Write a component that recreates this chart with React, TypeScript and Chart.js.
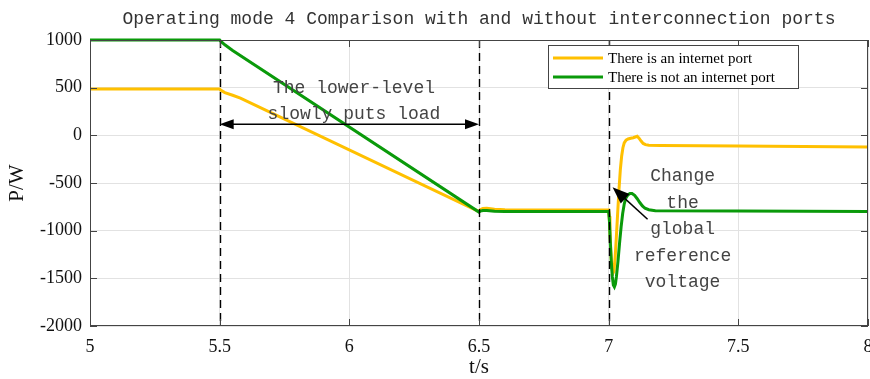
import React, { useEffect, useRef } from 'react';
import { Chart, registerables } from 'chart.js';

Chart.register(...registerables);

const chartTitle = 'Operating mode 4 Comparison with and without interconnection ports';
const xTitle = 't/s';
const yTitle = 'P/W';
const xTicks = [5, 5.5, 6, 6.5, 7, 7.5, 8];
const yTicks = [1000, 500, 0, -500, -1000, -1500, -2000];
const seriesNames = ['There is an internet port', 'There is not an internet port'];
const seriesColors = ['#FFC000', '#0A9A0A'];

// With interconnection port (yellow)
const tWith = [5.0, 5.5, 5.505, 5.52, 5.55, 5.58, 6.5, 6.505, 6.515, 6.53, 6.56, 6.6, 7.0,
  7.002, 7.005, 7.008, 7.012, 7.016, 7.02, 7.025, 7.03, 7.035, 7.04, 7.045, 7.05, 7.055, 7.06, 7.067, 7.075,
  7.085, 7.095, 7.105, 7.11, 7.117, 7.125, 7.133, 7.142, 7.155, 7.2, 7.5, 8.0];
const pWith = [485, 485, 472, 448, 420, 390, -800, -780, -768, -766, -775, -780, -782,
  -850, -1000, -1200, -1380, -1450, -1430, -1280, -1050, -800, -560, -360, -220, -130, -80, -50, -38,
  -30, -25, -15, -10, -30, -60, -85, -98, -104, -106, -113, -122];

// Without interconnection port (green)
const tWithout = [5.0, 5.5, 5.505, 5.52, 5.55, 6.5, 6.505, 6.515, 6.53, 6.56, 6.6, 7.0,
  7.003, 7.006, 7.01, 7.014, 7.018, 7.022, 7.026, 7.03, 7.036, 7.042, 7.048, 7.054, 7.06, 7.066, 7.074,
  7.082, 7.09, 7.1, 7.11, 7.12, 7.13, 7.14, 7.155, 7.18, 7.5, 8.0];
const pWithout = [1000, 1000, 985, 950, 890, -805, -795, -788, -788, -796, -800, -800,
  -900, -1100, -1320, -1480, -1570, -1590, -1560, -1480, -1320, -1130, -960, -820, -720, -660, -625,
  -610, -610, -630, -665, -705, -740, -765, -780, -790, -795, -800];

const dashedTimes = [5.5, 6.5, 7];
const annotText1 = ['The lower-level', 'slowly puts load'];
const annotText1Pos = { x: 6.018, y: [493, 218] };
const doubleArrow = { x1: 5.5, x2: 6.5, y: 115 };
const annotText2 = ['Change', 'the', 'global', 'reference', 'voltage'];
const annotText2Pos = { x: 7.285, y: [-430, -715, -990, -1270, -1540] };
const singleArrow = { xFrom: 7.15, yFrom: -880, xTo: 7.015, yTo: -545 };

function head(ctx: CanvasRenderingContext2D, x1: number, y1: number, x2: number, y2: number, len: number, w: number) {
  const a = Math.atan2(y2 - y1, x2 - x1);
  const bx = x2 - len * Math.cos(a);
  const by = y2 - len * Math.sin(a);
  ctx.beginPath();
  ctx.moveTo(x2, y2);
  ctx.lineTo(bx + (w / 2) * Math.sin(a), by - (w / 2) * Math.cos(a));
  ctx.lineTo(bx - (w / 2) * Math.sin(a), by + (w / 2) * Math.cos(a));
  ctx.closePath();
  ctx.fill();
}

const overlay = {
  id: 'overlay',
  afterDraw(chart: any) {
    const { ctx, chartArea: a, scales } = chart;
    const xs = scales.x;
    const ys = scales.y;
    ctx.save();

    // dashed verticals
    ctx.strokeStyle = '#000';
    ctx.lineWidth = 1.4;
    ctx.setLineDash([8, 5]);
    dashedTimes.forEach((t) => {
      const px = Math.round(xs.getPixelForValue(t)) + 0.5;
      ctx.beginPath();
      ctx.moveTo(px, a.top);
      ctx.lineTo(px, a.bottom);
      ctx.stroke();
    });
    ctx.setLineDash([]);

    // box + inner ticks
    ctx.strokeStyle = '#444';
    ctx.lineWidth = 1;
    ctx.strokeRect(a.left + 0.5, a.top + 0.5, a.right - a.left - 1, a.bottom - a.top - 1);
    ctx.beginPath();
    xTicks.forEach((t) => {
      const px = Math.round(xs.getPixelForValue(t)) + 0.5;
      ctx.moveTo(px, a.bottom);
      ctx.lineTo(px, a.bottom - 7);
      ctx.moveTo(px, a.top);
      ctx.lineTo(px, a.top + 7);
    });
    yTicks.forEach((v) => {
      const py = Math.round(ys.getPixelForValue(v)) + 0.5;
      ctx.moveTo(a.left, py);
      ctx.lineTo(a.left + 7, py);
      ctx.moveTo(a.right, py);
      ctx.lineTo(a.right - 7, py);
    });
    ctx.stroke();

    // double arrow
    ctx.strokeStyle = '#000';
    ctx.fillStyle = '#000';
    ctx.lineWidth = 1.5;
    const ax1 = xs.getPixelForValue(doubleArrow.x1);
    const ax2 = xs.getPixelForValue(doubleArrow.x2);
    const ay = ys.getPixelForValue(doubleArrow.y);
    ctx.beginPath();
    ctx.moveTo(ax1 + 8, ay);
    ctx.lineTo(ax2 - 8, ay);
    ctx.stroke();
    head(ctx, ax2, ay, ax1, ay, 14, 10);
    head(ctx, ax1, ay, ax2, ay, 14, 10);

    // single arrow
    const sx1 = xs.getPixelForValue(singleArrow.xFrom);
    const sy1 = ys.getPixelForValue(singleArrow.yFrom);
    const sx2 = xs.getPixelForValue(singleArrow.xTo);
    const sy2 = ys.getPixelForValue(singleArrow.yTo);
    ctx.beginPath();
    ctx.moveTo(sx1, sy1);
    ctx.lineTo(sx2 + (sx1 - sx2) * 0.3, sy2 + (sy1 - sy2) * 0.3);
    ctx.stroke();
    head(ctx, sx1, sy1, sx2, sy2, 17, 13);

    // annotation texts
    ctx.fillStyle = '#444';
    ctx.font = '18px "Liberation Mono", monospace';
    ctx.textAlign = 'center';
    ctx.textBaseline = 'middle';
    annotText1.forEach((s, i) => {
      ctx.fillText(s, xs.getPixelForValue(annotText1Pos.x), ys.getPixelForValue(annotText1Pos.y[i]));
    });
    annotText2.forEach((s, i) => {
      ctx.fillText(s, xs.getPixelForValue(annotText2Pos.x), ys.getPixelForValue(annotText2Pos.y[i]));
    });

    // legend
    const lx = a.left + 458;
    const ly = a.top + 5;
    const lw = 250;
    const lh = 43;
    ctx.fillStyle = '#fff';
    ctx.fillRect(lx, ly, lw, lh);
    ctx.strokeStyle = '#444';
    ctx.lineWidth = 1;
    ctx.strokeRect(lx + 0.5, ly + 0.5, lw, lh);
    ctx.font = '15px "Liberation Serif", serif';
    ctx.textAlign = 'left';
    seriesNames.forEach((n, i) => {
      const yy = ly + 13 + i * 19;
      ctx.strokeStyle = seriesColors[i];
      ctx.lineWidth = 3;
      ctx.beginPath();
      ctx.moveTo(lx + 5, yy);
      ctx.lineTo(lx + 55, yy);
      ctx.stroke();
      ctx.fillStyle = '#000';
      ctx.fillText(n, lx + 60, yy + 1);
    });

    // title
    ctx.fillStyle = '#333';
    ctx.font = '18px "Liberation Mono", monospace';
    ctx.textAlign = 'center';
    ctx.fillText(chartTitle, (a.left + a.right) / 2, 19);
    ctx.restore();
  },
};

export default function App() {
  const ref = useRef<HTMLCanvasElement>(null);
  useEffect(() => {
    document.body.style.margin = '0';
    const toPts = (t: number[], p: number[]) => t.map((x, i) => ({ x, y: p[i] }));
    const chart = new Chart(ref.current as HTMLCanvasElement, {
      type: 'line',
      data: {
        datasets: [
          {
            label: seriesNames[1],
            data: toPts(tWithout, pWithout),
            borderColor: seriesColors[1],
            borderWidth: 3,
            pointRadius: 0,
            tension: 0,
            clip: 4,
          },
          {
            label: seriesNames[0],
            data: toPts(tWith, pWith),
            borderColor: seriesColors[0],
            borderWidth: 3,
            pointRadius: 0,
            tension: 0,
            clip: 4,
          },
        ],
      },
      options: {
        animation: false,
        responsive: false,
        layout: { padding: { top: 40, right: 2, left: 0, bottom: 0 } },
        plugins: { legend: { display: false }, title: { display: false }, tooltip: { enabled: false } },
        scales: {
          x: {
            type: 'linear',
            min: 5,
            max: 8,
            afterBuildTicks: (s: any) => { s.ticks = xTicks.map((v) => ({ value: v })); },
            afterFit: (s: any) => { s.height = 53; s.paddingLeft = 0; s.paddingRight = 0; },
            grid: { color: '#e2e2e2', tickLength: 0, drawTicks: false },
            border: { display: false },
            ticks: {
              padding: 10,
              color: '#111',
              font: { family: '"Liberation Serif", serif', size: 18 },
              callback: (v: any) => String(v),
              maxRotation: 0,
            },
            title: {
              display: true,
              text: xTitle,
              color: '#111',
              font: { family: '"Liberation Serif", serif', size: 21, lineHeight: 1.05 },
              padding: { top: 0, bottom: 0 },
            },
          },
          y: {
            type: 'linear',
            min: -2000,
            max: 1000,
            afterBuildTicks: (s: any) => { s.ticks = yTicks.map((v) => ({ value: v })); },
            afterFit: (s: any) => { s.width = 90; s.paddingTop = 0; s.paddingBottom = 0; },
            grid: { color: '#e2e2e2', tickLength: 0, drawTicks: false },
            border: { display: false },
            ticks: {
              padding: 8,
              color: '#111',
              font: { family: '"Liberation Serif", serif', size: 18 },
              callback: (v: any) => String(v),
            },
            title: {
              display: true,
              text: yTitle,
              color: '#111',
              font: { family: '"Liberation Serif", serif', size: 21, lineHeight: 1.2 },
              padding: { top: 5, bottom: 0 },
            },
          },
        },
      },
      plugins: [overlay],
    } as any);
    return () => chart.destroy();
  }, []);
  return (
    <div style={{ width: 870, height: 379 }}>
      <canvas ref={ref} width={870} height={379} style={{ display: 'block' }} />
    </div>
  );
}
